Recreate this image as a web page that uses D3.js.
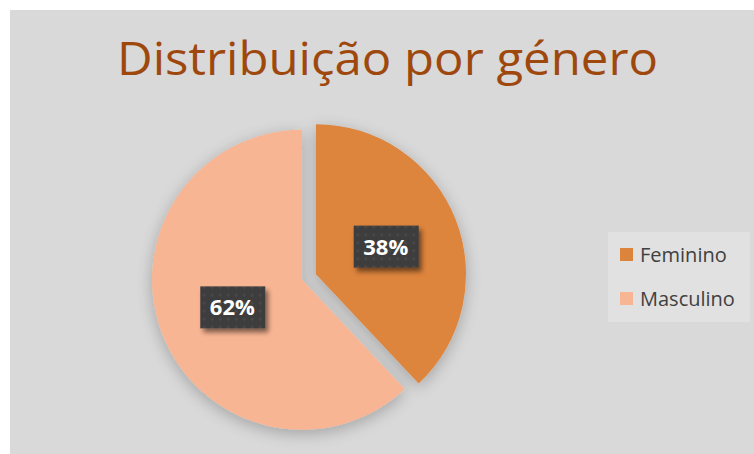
<!DOCTYPE html>
<html>
<head>
<meta charset="utf-8">
<script src="https://cdn.jsdelivr.net/npm/d3@7"></script>
<style>
  body { margin: 0; background: #fff; }
  svg { display: block; }
</style>
</head>
<body>
<div id="chart"></div>
<script>
// data
const categories = ["Feminino", "Masculino"];
const values = [38, 62];
const colors = ["#DD843C", "#F8B593"];
const title = "Distribuição por género";

const W = 754, H = 454;

const svg = d3.select("#chart").append("svg")
  .attr("width", W).attr("height", H);

const defs = svg.append("defs");

// soft shadow under the pie
const sh = defs.append("filter").attr("id", "pieShadow")
  .attr("x", "-20%").attr("y", "-20%").attr("width", "140%").attr("height", "140%");
sh.append("feGaussianBlur").attr("in", "SourceAlpha").attr("stdDeviation", 8);
sh.append("feOffset").attr("dx", 0).attr("dy", 4).attr("result", "b");
sh.append("feComponentTransfer").append("feFuncA").attr("type", "linear").attr("slope", 0.25);
const shm = sh.append("feMerge");
shm.append("feMergeNode");
shm.append("feMergeNode").attr("in", "SourceGraphic");

// label box shadow
const ls = defs.append("filter").attr("id", "lblShadow")
  .attr("x", "-30%").attr("y", "-30%").attr("width", "160%").attr("height", "170%");
ls.append("feGaussianBlur").attr("in", "SourceAlpha").attr("stdDeviation", 2.5);
ls.append("feOffset").attr("dx", 3).attr("dy", 4).attr("result", "b");
ls.append("feComponentTransfer").append("feFuncA").attr("type", "linear").attr("slope", 0.5);
const lsm = ls.append("feMerge");
lsm.append("feMergeNode");
lsm.append("feMergeNode").attr("in", "SourceGraphic");

// dotted pattern for label boxes
const pat = defs.append("pattern").attr("id", "dots")
  .attr("patternUnits", "userSpaceOnUse").attr("width", 8).attr("height", 8);
pat.append("rect").attr("width", 8).attr("height", 8).attr("fill", "#3c3c3c");
pat.append("circle").attr("cx", 4).attr("cy", 4).attr("r", 1.6).attr("fill", "#4a4a4a");

// chart background
svg.append("rect").attr("x", 10).attr("y", 10).attr("width", W - 10).attr("height", H - 10)
  .attr("fill", "#D9D9D9");

// title
svg.append("text")
  .attr("x", 117).attr("y", 75)
  .attr("textLength", 541).attr("lengthAdjust", "spacingAndGlyphs")
  .style("font-family", "'Open Sans', 'DejaVu Sans', sans-serif")
  .style("font-size", "46px")
  .attr("fill", "#9E480E")
  .text(title);

// pie
const cx = 309, cy = 277, r = 150, explode = 7.5;
const pie = d3.pie().sort(null).value(d => d);
const arcs = pie(values);
const arc = d3.arc().innerRadius(0).outerRadius(r);

const g = svg.append("g").attr("transform", `translate(${cx},${cy})`)
  .attr("filter", "url(#pieShadow)");

function offset(d) {
  const a = (d.startAngle + d.endAngle) / 2;
  return [Math.sin(a) * explode, -Math.cos(a) * explode];
}

g.selectAll("path").data(arcs).enter().append("path")
  .attr("d", arc)
  .attr("transform", d => `translate(${offset(d)})`)
  .attr("fill", (d, i) => colors[i]);

// data labels
const labelArc = d3.arc().innerRadius(r * 0.5).outerRadius(r * 0.5);
const lbl = svg.append("g").attr("transform", `translate(${cx},${cy})`);
const lg = lbl.selectAll("g").data(arcs).enter().append("g")
  .attr("transform", d => {
    const c = labelArc.centroid(d), o = offset(d);
    return `translate(${c[0] + o[0]},${c[1] + o[1]})`;
  });
lg.append("rect")
  .attr("x", -32).attr("y", -21).attr("width", 65).attr("height", 42)
  .attr("fill", "url(#dots)")
  .attr("filter", "url(#lblShadow)");
lg.append("text")
  .attr("text-anchor", "middle").attr("dy", "0.36em")
  .style("font-family", "'Open Sans', 'DejaVu Sans', sans-serif")
  .style("font-weight", "bold").style("font-size", "22px")
  .attr("fill", "#fff")
  .text(d => d.data + "%");

// legend
const leg = svg.append("g");
leg.append("rect").attr("x", 608).attr("y", 232).attr("width", 142).attr("height", 90)
  .attr("fill", "#E1E1E1");
const li = leg.selectAll("g").data(categories).enter().append("g")
  .attr("transform", (d, i) => `translate(620,${255 + i * 44})`);
li.append("rect").attr("x", 0).attr("y", -7).attr("width", 13).attr("height", 13)
  .attr("fill", (d, i) => colors[i]);
li.append("text").attr("x", 20).attr("dy", "0.35em")
  .style("font-family", "'Open Sans', 'DejaVu Sans', sans-serif")
  .style("font-size", "20px")
  .attr("fill", "#404040")
  .text(d => d);
</script>
</body>
</html>
